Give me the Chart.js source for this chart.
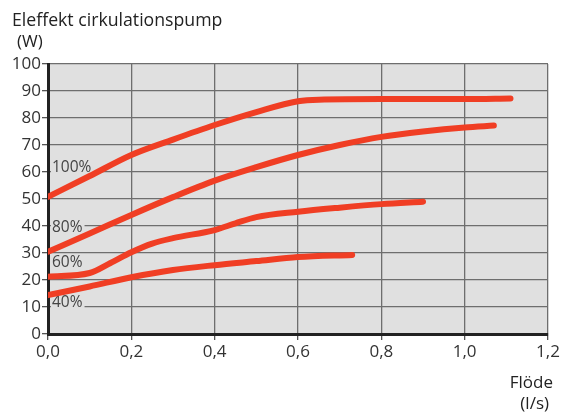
<!DOCTYPE html>
<html>
<head>
<meta charset="utf-8">
<script src="https://cdn.jsdelivr.net/npm/chart.js@4"></script>
<style>
  html, body { margin: 0; padding: 0; background: #fff; }
  #wrap { position: relative; width: 563px; height: 412px; }
</style>
</head>
<body>
<div id="wrap"><canvas id="pump" width="563" height="412"></canvas></div>
<script>
// Flöde (l/s) och effekt (W) per varvtal
const flow100 = [0, 0.1, 0.2, 0.3, 0.4, 0.5, 0.6, 0.65, 0.8, 1.0, 1.11];
const power100 = [50.8, 58.5, 66.3, 72, 77.4, 82.2, 86.2, 86.8, 87, 87, 87.2];

const flow80 = [0, 0.1, 0.2, 0.3, 0.4, 0.5, 0.6, 0.7, 0.8, 0.9, 1.0, 1.07];
const power80 = [30.5, 37.2, 44.1, 50.7, 56.8, 61.8, 66.3, 70, 73, 75, 76.5, 77.2];

const flow60 = [0, 0.1, 0.15, 0.2, 0.25, 0.3, 0.4, 0.45, 0.5, 0.6, 0.7, 0.8, 0.9];
const power60 = [21.2, 22.6, 26.3, 30.3, 33.5, 35.5, 38.5, 41, 43.3, 45.3, 46.8, 48.1, 49];

const flow40 = [0, 0.1, 0.2, 0.3, 0.4, 0.5, 0.6, 0.73];
const power40 = [14.4, 17.6, 21, 23.7, 25.5, 27, 28.5, 29.3];

const curveLabels = ["100%", "80%", "60%", "40%"];
const labelY = [61.8, 39.5, 26.5, 11.5];

const xTicks = [0, 0.2, 0.4, 0.6, 0.8, 1.0, 1.2];
const yTicks = [0, 10, 20, 30, 40, 50, 60, 70, 80, 90, 100];

const FONT = "'Open Sans', 'DejaVu Sans', sans-serif";
const lineColor = "#f03e24";

function toPoints(xs, ys) {
  return xs.map((x, i) => ({ x: x, y: ys[i] }));
}

function series(xs, ys) {
  return {
    data: toPoints(xs, ys),
    borderColor: lineColor,
    borderWidth: 6,
    borderCapStyle: "round",
    borderJoinStyle: "round",
    pointRadius: 0,
    cubicInterpolationMode: "monotone",
    fill: false
  };
}

// bakgrund i diagramytan + texter
const decorPlugin = {
  id: "decor",
  beforeDraw(chart) {
    const { ctx, chartArea: a } = chart;
    ctx.save();
    ctx.fillStyle = "#e0e0e0";
    ctx.fillRect(a.left, a.top, a.right - a.left, a.bottom - a.top);
    ctx.restore();
  },
  beforeDatasetsDraw(chart) {
    const { ctx, scales } = chart;
    ctx.save();
    ctx.font = "15.5px " + FONT;
    ctx.textBaseline = "middle";
    curveLabels.forEach((lbl, i) => {
      const px = scales.x.getPixelForValue(0) + 4;
      const py = scales.y.getPixelForValue(labelY[i]);
      const w = ctx.measureText(lbl).width;
      ctx.fillStyle = "#e0e0e0";
      ctx.fillRect(px - 1, py - 8, w + 3, 16);
      ctx.fillStyle = "#444";
      ctx.fillText(lbl, px, py);
    });
    ctx.restore();
  },
  afterDraw(chart) {
    const { ctx } = chart;
    ctx.save();
    ctx.fillStyle = "#222";
    ctx.textBaseline = "alphabetic";
    ctx.font = "17.7px " + FONT;
    ctx.textAlign = "left";
    ctx.fillText("Eleffekt cirkulationspump", 12, 26);
    ctx.font = "17px " + FONT;
    ctx.fillText("(W)", 17, 47);
    ctx.textAlign = "right";
    ctx.fillText("Flöde", 553, 388);
    ctx.fillText("(l/s)", 549, 409);
    ctx.restore();
  }
};

const chart = new Chart(document.getElementById("pump"), {
  type: "line",
  data: {
    datasets: [
      series(flow100, power100),
      series(flow80, power80),
      series(flow60, power60),
      series(flow40, power40)
    ]
  },
  options: {
    responsive: false,
    animation: false,
    layout: { padding: { top: 64, right: 15, left: 0, bottom: 0 } },
    plugins: { legend: { display: false }, tooltip: { enabled: false } },
    scales: {
      x: {
        type: "linear",
        min: 0,
        max: 1.2,
        afterBuildTicks(scale) { scale.ticks = xTicks.map(v => ({ value: v })); },
        afterFit(scale) { scale.height = 78; },
        grid: { color: "#6e6e6e", lineWidth: 1.3, tickLength: 6, tickColor: "#555" },
        border: { color: "#222", width: 3 },
        ticks: {
          padding: 2,
          color: "#333",
          font: { family: FONT, size: 17 },
          callback: v => v.toFixed(1).replace(".", ",")
        }
      },
      y: {
        min: 0,
        max: 100,
        afterBuildTicks(scale) { scale.ticks = yTicks.map(v => ({ value: v })); },
        afterFit(scale) { scale.width = 48; },
        grid: { color: "#6e6e6e", lineWidth: 1.3, tickLength: 6, tickColor: "#555" },
        border: { color: "#222", width: 3 },
        ticks: {
          padding: 1,
          color: "#333",
          font: { family: FONT, size: 17 }
        }
      }
    }
  },
  plugins: [decorPlugin]
});
</script>
</body>
</html>
